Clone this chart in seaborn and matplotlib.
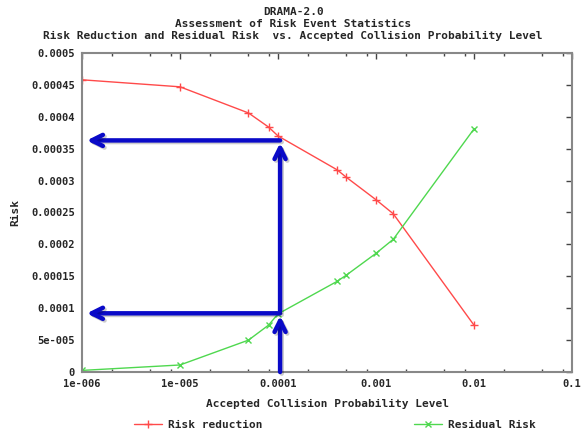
import numpy as np
import pandas as pd
import matplotlib
matplotlib.use("Agg")
import matplotlib.pyplot as plt
import matplotlib.ticker as mticker
import matplotlib.patheffects as pe
import seaborn as sns

# values
levels = [1e-6, 1e-5, 5e-5, 8e-5, 1e-4, 4e-4, 5e-4, 1e-3, 1.5e-3, 1e-2]
risk_reduction = [0.000458, 0.000447, 0.000406, 0.000384, 0.000370,
                  0.000317, 0.000305, 0.000270, 0.000248, 0.0000734]
residual_risk = [0.0000025, 0.000011, 0.000050, 0.0000734, 0.000091,
                 0.000142, 0.000152, 0.000186, 0.000208, 0.000381]

y_ticks = [0, 5e-5, 1e-4, 1.5e-4, 2e-4, 2.5e-4, 3e-4, 3.5e-4, 4e-4, 4.5e-4, 5e-4]
y_labels = ['0', '5e-005', '0.0001', '0.00015', '0.0002', '0.00025',
            '0.0003', '0.00035', '0.0004', '0.00045', '0.0005']
x_ticks = [1e-6, 1e-5, 1e-4, 1e-3, 1e-2, 1e-1]
x_labels = ['1e-006', '1e-005', '0.0001', '0.001', '0.01', '0.1']

# accepted level marked with arrows and the two risks read at it
marked_level = 1.05e-4
marked_reduction = 0.000363
marked_residual = 0.000092

df = pd.DataFrame({'level': levels, 'Risk reduction': risk_reduction,
                   'Residual Risk': residual_risk})

sns.set_style('white')
plt.rcParams['font.family'] = ['DejaVu Sans Mono']
plt.rcParams['font.weight'] = 'bold'

fig = plt.figure(figsize=(5.84, 4.36), dpi=100)
ax = fig.add_axes([82 / 584, 1 - 372 / 436, 490 / 584, 319 / 436])

red = '#ff4a4a'
green = '#4fd84f'
sns.lineplot(data=df, x='level', y='Risk reduction', ax=ax, color=red, lw=1,
             marker='+', markersize=6, mew=1, mec=red, label='Risk reduction', legend=False)
sns.lineplot(data=df, x='level', y='Residual Risk', ax=ax, color=green, lw=1,
             marker='x', markersize=5, mew=1, mec=green, label='Residual Risk', legend=False)

ax.set_xscale('log')
ax.set_xlim(1e-6, 1e-1)
ax.set_ylim(0, 5e-4)
ax.set_xticks(x_ticks)
ax.set_xticklabels(x_labels)
ax.xaxis.set_minor_locator(mticker.LogLocator(base=10, subs=[2, 5, 8]))
ax.xaxis.set_minor_formatter(mticker.NullFormatter())
ax.set_yticks(y_ticks)
ax.set_yticklabels(y_labels)

ax.tick_params(axis='both', which='major', direction='in', length=4, width=1,
               color='#444444', top=True, right=True, labelsize=7.5, pad=5)
ax.tick_params(axis='x', which='minor', direction='in', length=2, width=1,
               color='#444444', top=True, bottom=True)
for s in ax.spines.values():
    s.set_color('#888888')
    s.set_linewidth(1.5)

ax.set_xlabel('Accepted Collision Probability Level', fontsize=8, fontweight='bold', labelpad=7)
ax.set_ylabel('Risk', fontsize=8, fontweight='bold', labelpad=8)

# blue arrows
blue = '#0a0ac8'
shadow = [pe.SimpleLineShadow(offset=(1.2, -1.2), alpha=0.2), pe.Normal()]
arr = dict(arrowstyle='->,head_length=0.8,head_width=0.4', color=blue, lw=3.2,
           shrinkA=0, shrinkB=0, path_effects=shadow)
ax.annotate('', xy=(1.12e-6, marked_reduction), xytext=(marked_level, marked_reduction), arrowprops=arr)
ax.annotate('', xy=(1.12e-6, marked_residual), xytext=(marked_level, marked_residual), arrowprops=arr)
ax.annotate('', xy=(marked_level, marked_residual - 0.000004), xytext=(marked_level, 0), arrowprops=arr)
ax.annotate('', xy=(marked_level, marked_reduction - 0.000004), xytext=(marked_level, marked_residual + 0.000004),
            arrowprops=arr)

fig.text(0.502, 1 - 12 / 436, 'DRAMA-2.0', ha='center', va='center', fontsize=8, fontweight='bold')
fig.text(0.502, 1 - 24 / 436, 'Assessment of Risk Event Statistics', ha='center', va='center',
         fontsize=8, fontweight='bold')
fig.text(0.502, 1 - 36 / 436, 'Risk Reduction and Residual Risk  vs. Accepted Collision Probability Level',
         ha='center', va='center', fontsize=8, fontweight='bold')

h, l = ax.get_legend_handles_labels()
fig.legend(h, l, loc='center', bbox_to_anchor=(335 / 584, 1 - 425 / 436), ncol=2, frameon=False,
           fontsize=8, handlelength=2.5, columnspacing=13.6, handletextpad=0.6)

fig.savefig('out.png', dpi=100)
